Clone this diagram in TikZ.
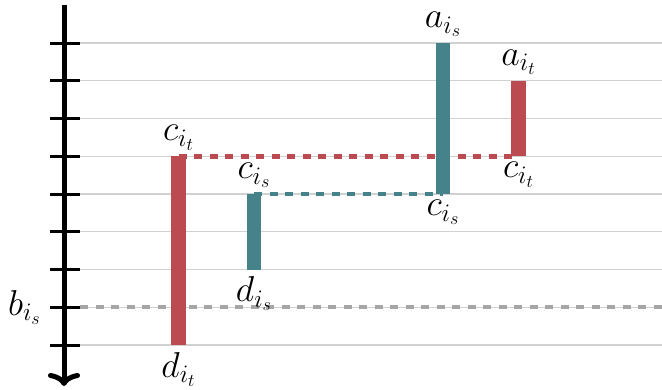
\documentclass[tikz,border=0pt]{standalone}
\usepackage{fix-cm}
\usetikzlibrary{arrows.meta, positioning}

\definecolor{barred}{HTML}{BC4B51}
\definecolor{barteal}{HTML}{46828A}

\begin{document}
\begin{tikzpicture}[
    x=1pt, y=-1pt,
    axis/.style={line width=5pt, -{Computer Modern Rightarrow[length=13pt, width=32pt]}},
    tick/.style={line width=3pt},
    grid/.style={draw=black!18, line width=1.2pt},
    redbar/.style={draw=barred, line width=15pt},
    tealbar/.style={draw=barteal, line width=14pt},
    reddash/.style={draw=barred, line width=4.5pt, dash pattern=on 8pt off 7.5pt},
    tealdash/.style={draw=barteal, line width=4.5pt, dash pattern=on 8pt off 7.5pt},
    graydash/.style={draw=black!35, line width=4pt, dash pattern=on 8pt off 7.5pt},
    lbl/.style={font=\fontsize{36}{40}\selectfont, inner sep=0pt}
]
\useasboundingbox (0,0) rectangle (662,389);

% Grid and ticks
\foreach \k in {0,...,8} {
    \coordinate (tl\k) at (50, 43+37.75*\k);
    \coordinate (tr\k) at (80, 43+37.75*\k);
    \coordinate (ge\k) at (662, 43+37.75*\k);
    \draw[grid] (tr\k) -- (ge\k);
    \draw[tick] (tl\k) -- (tr\k);
}

% Axis
\coordinate (top) at (64,5);
\coordinate (bottom) at (64,386);
\draw[axis] (top) -- (bottom);

% Bar ends
\coordinate (ct) at (178.5,156.25);
\coordinate (dt) at (178.5,345);
\coordinate (cs) at (254,194);
\coordinate (ds) at (254,269.5);
\coordinate (as) at (443,43);
\coordinate (cs2) at (443,194);
\coordinate (at) at (518.5,80.75);
\coordinate (ct2) at (518.5,156.25);

% Dashed levels
\draw[graydash] (tr7) -- (ge7);
\draw[reddash] (ct) -- (ct2);
\draw[tealdash] (cs) -- (cs2);

% Bars
\draw[redbar] (ct) -- (dt);
\draw[tealbar] (cs) -- (ds);
\draw[tealbar] (as) -- (cs2);
\draw[redbar] (at) -- (ct2);

% Labels
\node[lbl, above=6pt of ct] {$c_{i_t}$};
\node[lbl, below=7pt of dt] {$d_{i_t}$};
\node[lbl, above=6pt of cs] {$c_{i_s}$};
\node[lbl, below=7pt of ds] {$d_{i_s}$};
\node[lbl, above=6pt of as] {$a_{i_s}$};
\node[lbl, below=6pt of cs2] {$c_{i_s}$};
\node[lbl, above=6pt of at] {$a_{i_t}$};
\node[lbl, below=6pt of ct2] {$c_{i_t}$};
\node[lbl, left=9pt of tl7] {$b_{i_s}$};

\end{tikzpicture}
\end{document}
